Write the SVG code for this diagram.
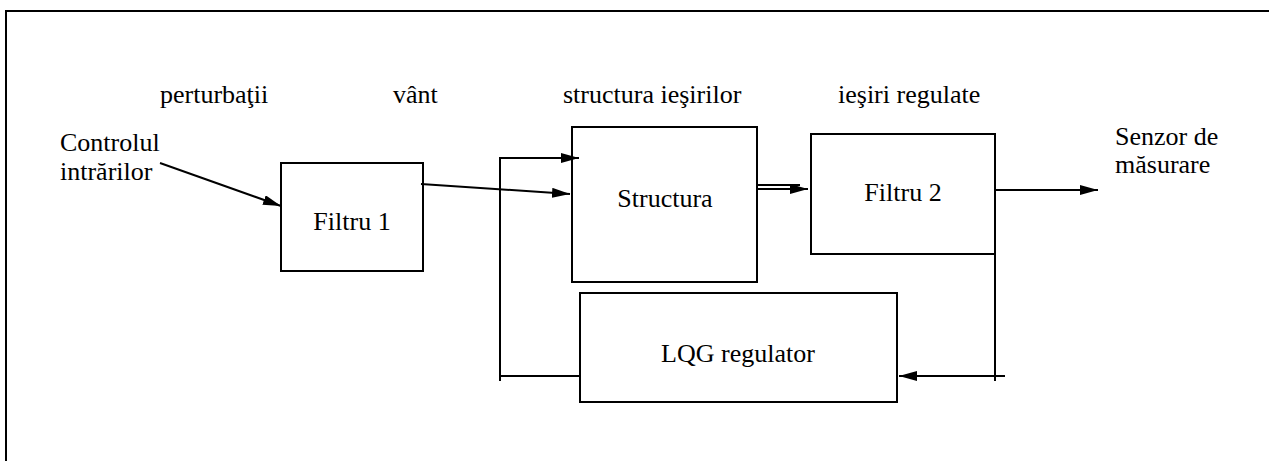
<svg xmlns="http://www.w3.org/2000/svg" width="1269" height="461" viewBox="0 0 1269 461">
<defs>
<marker id="ah" viewBox="0 0 18 10" refX="18" refY="5" markerWidth="18" markerHeight="10" markerUnits="userSpaceOnUse" orient="auto">
<path d="M0,0 L18,5 L0,10 Z" fill="#000"/>
</marker>
</defs>
<rect width="1269" height="461" fill="#fff"/>
<path d="M6,461 V11 H1269" fill="none" stroke="#000" stroke-width="2"/>
<g id="labels">
<text x="160" y="103" font-family="Liberation Serif" font-size="26">perturbaţii</text>
<text x="393" y="103" font-family="Liberation Serif" font-size="26">vânt</text>
<text x="563" y="103" font-family="Liberation Serif" font-size="26">structura ieşirilor</text>
<text x="838" y="103" font-family="Liberation Serif" font-size="26">ieşiri regulate</text>
<text x="60" y="151" font-family="Liberation Serif" font-size="26">Controlul</text>
<text x="60" y="180" font-family="Liberation Serif" font-size="26">intrărilor</text>
<text x="1115" y="145" font-family="Liberation Serif" font-size="26">Senzor de</text>
<text x="1115" y="173" font-family="Liberation Serif" font-size="26">măsurare</text>
</g>
<g id="filtru1"><rect x="281" y="163" width="142" height="108" fill="#fff" stroke="#000" stroke-width="2"/><text x="352" y="230" text-anchor="middle" font-family="Liberation Serif" font-size="26">Filtru 1</text></g>
<g id="structura"><rect x="572" y="127" width="185" height="155" fill="#fff" stroke="#000" stroke-width="2"/><text x="665" y="207" text-anchor="middle" font-family="Liberation Serif" font-size="26">Structura</text></g>
<g id="filtru2"><rect x="811" y="134" width="184" height="120" fill="#fff" stroke="#000" stroke-width="2"/><text x="903" y="201" text-anchor="middle" font-family="Liberation Serif" font-size="26">Filtru 2</text></g>
<g id="lqg"><rect x="580" y="293" width="317" height="109" fill="#fff" stroke="#000" stroke-width="2"/><text x="738" y="362" text-anchor="middle" font-family="Liberation Serif" font-size="26">LQG regulator</text></g>
<g id="connectors" fill="none" stroke="#000" stroke-width="2">
<line x1="160" y1="163" x2="281" y2="206" marker-end="url(#ah)"/>
<line x1="421" y1="184" x2="570" y2="194" marker-end="url(#ah)"/>
<polyline points="500,381 500,158 579,158" marker-end="url(#ah)"/>
<line x1="500" y1="376" x2="580" y2="376"/>
<line x1="757" y1="185" x2="800" y2="185"/>
<line x1="757" y1="189" x2="808" y2="189" marker-end="url(#ah)"/>
<line x1="995" y1="190" x2="1098" y2="190" marker-end="url(#ah)"/>
<line x1="995" y1="254" x2="995" y2="381"/>
<line x1="1005" y1="376" x2="899" y2="376" marker-end="url(#ah)"/>
</g>
</svg>
